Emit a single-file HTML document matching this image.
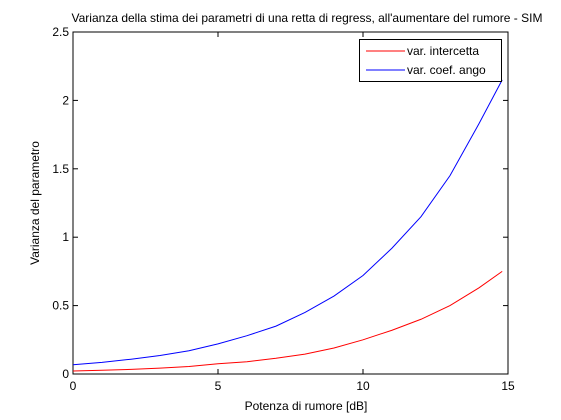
<!DOCTYPE html>
<html><head><meta charset="utf-8"><style>
body{margin:0;background:#fff;}
svg{display:block;font-family:"Liberation Sans",sans-serif;}
</style></head><body>
<svg id="chart" width="561" height="420" viewBox="0 0 561 420" xmlns="http://www.w3.org/2000/svg">
<rect x="0" y="0" width="561" height="420" fill="#fff"/>
<text x="307" y="22" font-size="12" text-anchor="middle">Varianza della stima dei parametri di una retta di regress, all'aumentare del rumore - SIM</text>
<g id="plot"></g>
<text x="306" y="410" font-size="12" text-anchor="middle">Potenza di rumore [dB]</text>
<text transform="translate(39,203) rotate(-90)" font-size="12" text-anchor="middle">Varianza del parametro</text>
</svg>
<script>
const xVals=[0,1,2,3,4,5,6,7,8,9,10,11,12,13,14,14.8];
const intercettaVals=[0.022,0.027,0.034,0.043,0.055,0.075,0.09,0.115,0.145,0.19,0.25,0.32,0.40,0.50,0.63,0.75];
const coefAngoVals=[0.068,0.085,0.108,0.135,0.17,0.22,0.28,0.35,0.45,0.57,0.72,0.92,1.15,1.45,1.83,2.15];
const xTicks=[0,5,10,15];
const yTicks=[0,0.5,1,1.5,2,2.5];
const yTickLabels=["0","0.5","1","1.5","2","2.5"];
const L=73,R=508,T=32,B=374;
const sx=v=>L+(v-0)/15*(R-L);
const sy=v=>B-(v-0)/2.5*(B-T);
const NS="http://www.w3.org/2000/svg";
const g=document.getElementById('plot');
function mk(tag,attrs){const e=document.createElementNS(NS,tag);for(const k in attrs)e.setAttribute(k,attrs[k]);g.appendChild(e);return e;}
const frame=mk('rect',{x:L,y:T,width:R-L,height:B-T,fill:'#fff',stroke:'#000','stroke-width':1});


xTicks.forEach(v=>{
 const x=sx(v);
 const t1=mk('line',{x1:x,y1:B,x2:x,y2:B-5,stroke:'#000'});
 
 
 const t2=mk('line',{x1:x,y1:T,x2:x,y2:T+5,stroke:'#000'});
 
 
 const tl=mk('text',{x:x,y:B+16,'font-size':12,'text-anchor':'middle'});
 tl.textContent=String(v);
 
 
});
yTicks.forEach((v,i)=>{
 const y=sy(v);
 const t1=mk('line',{x1:L,y1:y,x2:L+5,y2:y,stroke:'#000'});
 
 
 const t2=mk('line',{x1:R,y1:y,x2:R-5,y2:y,stroke:'#000'});
 
 
 const tl=mk('text',{x:L-4,y:y+4,'font-size':12,'text-anchor':'end'});
 tl.textContent=yTickLabels[i];
 
 
});
function line(vals,color,name){
 const d=xVals.map((x,i)=>(i?'L':'M')+sx(x).toFixed(2)+','+sy(vals[i]).toFixed(2)).join(' ');
 const p=mk('path',{d:d,fill:'none',stroke:color,'stroke-width':1});
 
 
}
line(intercettaVals,'#ff0000','series-intercetta');
line(coefAngoVals,'#0000ff','series-coef-ango');
const lb=mk('rect',{x:359.5,y:39.5,width:142,height:42,fill:'#fff',stroke:'#000'});


[['var. intercetta','#ff0000',51],['var. coef. ango','#0000ff',70]].forEach(([txt,c,y])=>{
 const l=mk('line',{x1:366,y1:y,x2:405,y2:y,stroke:c});
 
 
 const t=mk('text',{x:407,y:y+4,'font-size':12});
 t.textContent=txt;
 
 
});
</script>
</body></html>
